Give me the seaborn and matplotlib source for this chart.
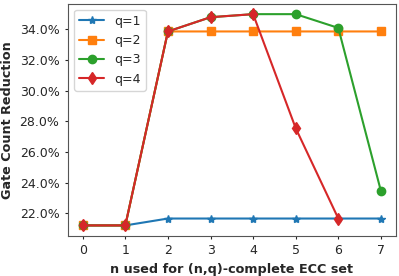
import numpy as np
import pandas as pd
import matplotlib
matplotlib.use("Agg")
import matplotlib.pyplot as plt
import seaborn as sns
from matplotlib.ticker import FuncFormatter

# ===== Data =====
n_values = [0, 1, 2, 3, 4, 5, 6, 7]
q1 = [21.2, 21.2, 21.65, 21.65, 21.65, 21.65, 21.65, 21.65]
q2 = [21.2, 21.2, 33.87, 33.87, 33.87, 33.87, 33.87, 33.87]
q3 = [21.2, 21.2, 33.87, 34.8, 35.0, 35.0, 34.1, 23.45]
q4 = [21.2, 21.2, 33.87, 34.8, 35.0, 27.55, 21.65]

series = {"q=1": q1, "q=2": q2, "q=3": q3, "q=4": q4}
markers = {"q=1": "*", "q=2": "s", "q=3": "o", "q=4": "d"}

rows = []
for name, vals in series.items():
    for n, v in zip(n_values, vals):
        rows.append({"n": n, "reduction": v, "q": name})
df = pd.DataFrame(rows)

sns.set_style("ticks")
plt.rcParams["font.family"] = ["DejaVu Sans"]

fig, ax = plt.subplots(figsize=(3.99, 2.76), dpi=100)
palette = sns.color_palette("tab10", 4)
for i, name in enumerate(series):
    sub = df[df["q"] == name]
    sns.lineplot(data=sub, x="n", y="reduction", ax=ax, color=palette[i],
                 marker=markers[name], markersize=6, markeredgewidth=1,
                 markeredgecolor=palette[i], label=name, linewidth=1.5)

ax.yaxis.set_major_formatter(FuncFormatter(lambda v, _: f"{v:.1f}%"))
ax.set_xticks(n_values)
ax.tick_params(labelsize=9, length=2.5)
ax.set_xlabel("n used for (n,q)-complete ECC set", fontweight="bold", fontsize=9.2)
ax.set_ylabel("Gate Count Reduction", fontweight="bold", fontsize=9.2)
ax.legend(loc="upper left", fontsize=9)
for s in ax.spines.values():
    s.set_color("#555555")
fig.subplots_adjust(left=0.170, right=0.992, top=0.987, bottom=0.145)
plt.savefig("out.png", dpi=100)
